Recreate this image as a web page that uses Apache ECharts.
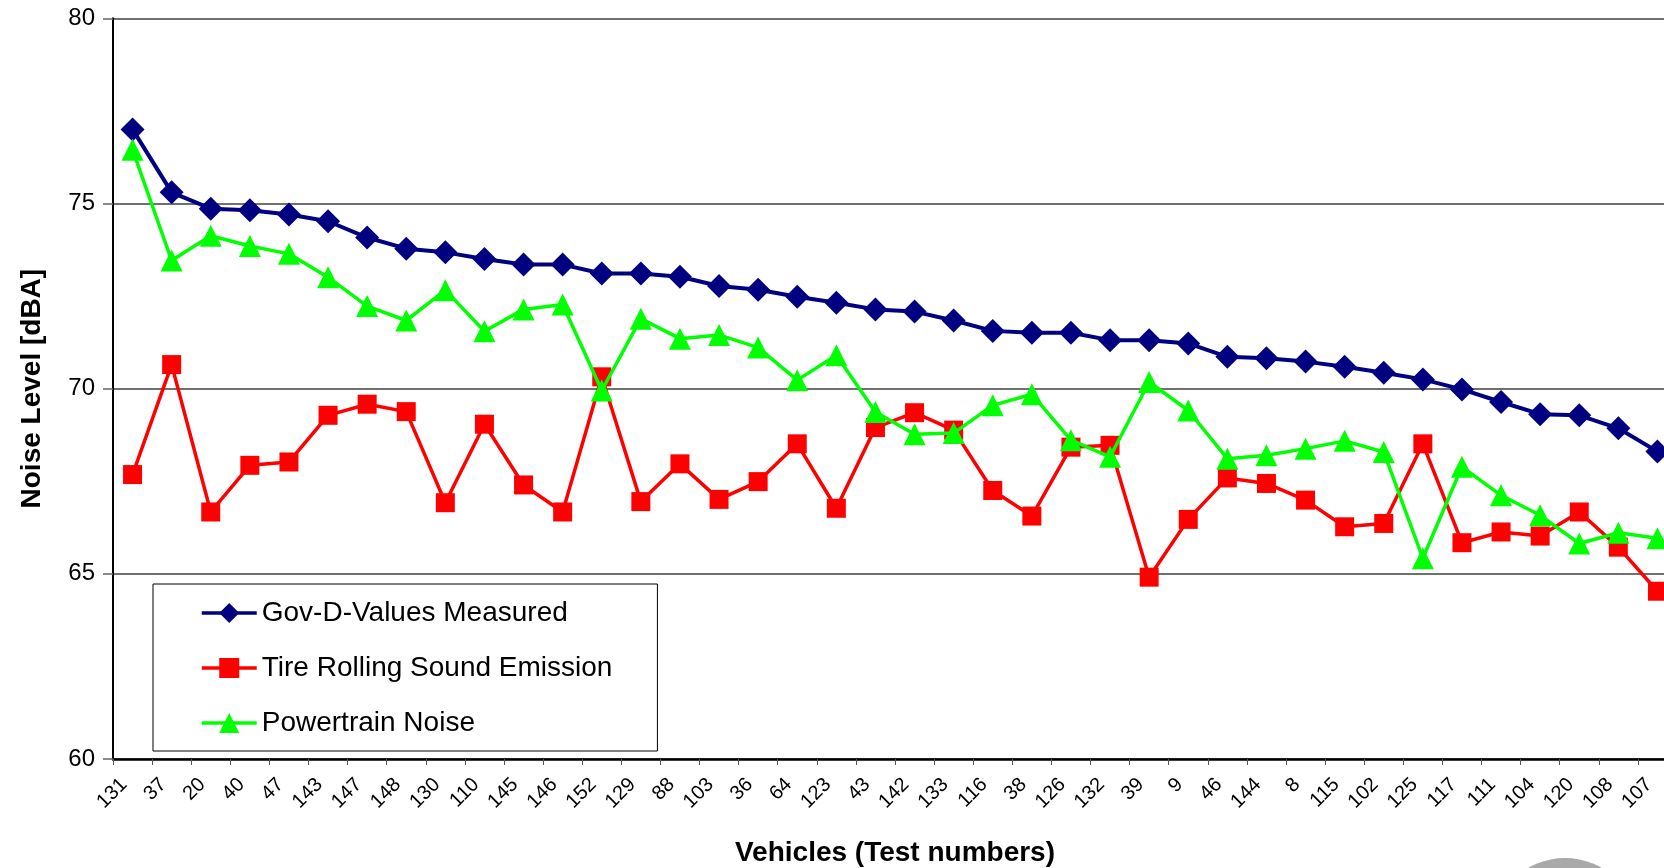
<!DOCTYPE html>
<html>
<head>
<meta charset="utf-8">
<script src="https://cdn.jsdelivr.net/npm/echarts@6/dist/echarts.min.js"></script>
<style>
html,body{margin:0;padding:0;background:#fff;}
#chart{width:1664px;height:868px;}
</style>
</head>
<body>
<div id="chart"></div>
<script>
const categories = ['131','37','20','40','47','143','147','148','130','110','145','146','152','129','88','103','36','64','123','43','142','133','116','38','126','132','39','9','46','144','8','115','102','125','117','111','104','120','108','107'];

const govDValues = [77.0, 75.3, 74.86, 74.82, 74.7, 74.52, 74.08, 73.78, 73.68, 73.5, 73.35, 73.35, 73.11, 73.11, 73.02, 72.77, 72.67, 72.48, 72.32, 72.14, 72.08, 71.84, 71.56, 71.51, 71.51, 71.31, 71.31, 71.22, 70.86, 70.82, 70.73, 70.59, 70.43, 70.25, 69.98, 69.64, 69.31, 69.28, 68.93, 68.3];

const tireRolling = [67.68, 70.65, 66.67, 67.93, 68.02, 69.28, 69.58, 69.38, 66.92, 69.04, 67.4, 66.67, 70.32, 66.95, 67.97, 67.01, 67.49, 68.51, 66.77, 68.95, 69.35, 68.88, 67.25, 66.56, 68.42, 68.47, 64.91, 66.47, 67.59, 67.44, 66.99, 66.27, 66.36, 68.51, 65.84, 66.13, 66.02, 66.67, 65.72, 64.53];

const powertrain = [76.45, 73.46, 74.13, 73.85, 73.64, 73.01, 72.23, 71.84, 72.66, 71.55, 72.14, 72.27, 69.95, 71.89, 71.35, 71.45, 71.11, 70.23, 70.9, 69.37, 68.77, 68.8, 69.55, 69.85, 68.61, 68.16, 70.18, 69.41, 68.11, 68.2, 68.38, 68.59, 68.29, 65.42, 67.89, 67.12, 66.58, 65.82, 66.11, 65.96];

const yTicks = [60, 65, 70, 75, 80];

const FONT = 'Liberation Sans, Arial, sans-serif';
const chart = echarts.init(document.getElementById('chart'), null, {renderer: 'canvas'});

chart.setOption({
  animation: false,
  backgroundColor: '#ffffff',
  textStyle: {fontFamily: FONT, color: '#000'},
  grid: {left: 113, top: 18.3, width: 1564, bottom: 109, containLabel: false, outerBoundsMode: 'none'},
  legend: {
    show: true,
    orient: 'vertical',
    left: 153,
    top: 584,
    padding: [15, 45, 14, 47],
    itemWidth: 55,
    itemHeight: 25,
    itemGap: 27,
    selectedMode: false,
    backgroundColor: '#ffffff',
    borderColor: '#000000',
    borderWidth: 1,
    lineStyle: {width: 3.5},
    textStyle: {fontFamily: FONT, fontSize: 28, color: '#000'},
    data: ['Gov-D-Values Measured', 'Tire Rolling Sound Emission', 'Powertrain Noise']
  },
  xAxis: {
    type: 'category',
    data: categories,
    boundaryGap: true,
    name: 'Vehicles (Test numbers)',
    nameLocation: 'middle',
    nameGap: 80,
    nameTextStyle: {fontFamily: FONT, fontSize: 28, fontWeight: 'bold', color: '#000'},
    axisLine: {show: true, lineStyle: {color: '#000', width: 2.5}},
    axisTick: {show: true, length: 6, lineStyle: {color: '#555', width: 1}},
    axisLabel: {interval: 0, rotate: 45, margin: 14, padding: [0, 12, 0, 0], fontFamily: FONT, fontSize: 20, color: '#000'},
    splitLine: {show: false}
  },
  yAxis: {
    type: 'value',
    min: yTicks[0],
    max: yTicks[yTicks.length - 1],
    interval: 5,
    name: 'Noise Level [dBA]',
    nameLocation: 'middle',
    nameRotate: 90,
    nameGap: 67,
    nameTextStyle: {fontFamily: FONT, fontSize: 28, fontWeight: 'bold', color: '#000'},
    axisLine: {show: true, lineStyle: {color: '#000', width: 2}},
    axisTick: {show: true, length: 10, lineStyle: {color: '#666', width: 1.5}},
    axisLabel: {margin: 18, padding: [3, 0, 0, 0], fontFamily: FONT, fontSize: 24, color: '#000'},
    splitLine: {show: true, lineStyle: {color: '#404040', width: 1.5}}
  },
  series: [
    {
      name: 'Gov-D-Values Measured',
      type: 'line',
      data: govDValues,
      symbol: 'diamond',
      symbolSize: 24,
      lineStyle: {color: '#000080', width: 4},
      itemStyle: {color: '#000080'},
      z: 2
    },
    {
      name: 'Tire Rolling Sound Emission',
      type: 'line',
      data: tireRolling,
      symbol: 'rect',
      symbolSize: 19,
      lineStyle: {color: '#ff0000', width: 3.5},
      itemStyle: {color: '#ff0000'},
      z: 3
    },
    {
      name: 'Powertrain Noise',
      type: 'line',
      data: powertrain,
      symbol: 'triangle',
      symbolSize: 22,
      lineStyle: {color: '#00ff00', width: 3.5},
      itemStyle: {color: '#00ff00'},
      z: 4
    }
  ],
  graphic: [
    {type: 'circle', shape: {cx: 1565, cy: 931, r: 73}, style: {fill: '#a9a9a9'}, silent: true}
  ]
});
</script>
</body>
</html>
